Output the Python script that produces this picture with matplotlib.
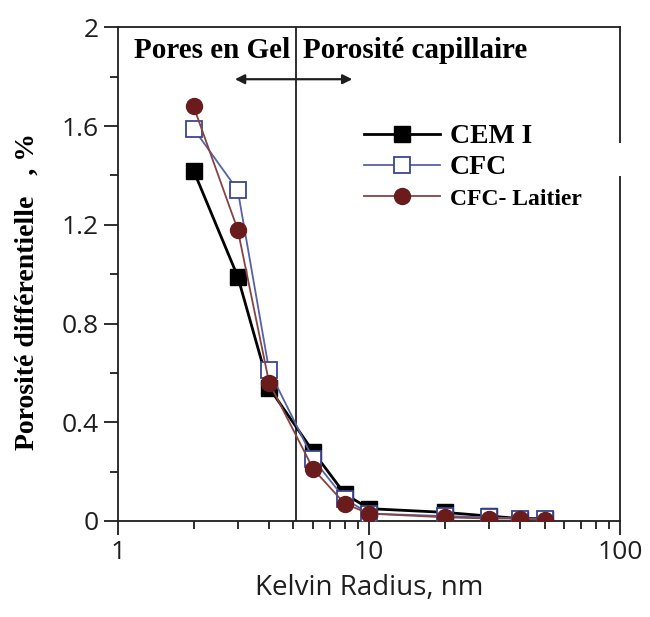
import matplotlib
matplotlib.use("Agg")
import matplotlib.pyplot as plt
from matplotlib.patches import Rectangle
from matplotlib.ticker import FixedLocator, NullFormatter

# Kelvin radius (nm) and differential porosity (%) for each binder
radius = [2, 3, 4, 6, 8, 10, 20, 30, 40, 50]
cem_i = [1.42, 0.99, 0.54, 0.28, 0.11, 0.05, 0.035, 0.02, 0.01, 0.01]
cfc = [1.59, 1.34, 0.61, 0.25, 0.09, 0.03, 0.02, 0.015, 0.01, 0.01]
cfc_laitier = [1.68, 1.18, 0.56, 0.21, 0.07, 0.03, 0.015, 0.01, 0.01, 0.005]

y_ticks = [0, 0.4, 0.8, 1.2, 1.6, 2]
y_tick_labels = ["0", "0.4", "0.8", "1.2", "1.6", "2"]
x_ticks = [1, 10, 100]
x_tick_labels = ["1", "10", "100"]
gel_limit = 5.1

serif = ["Liberation Serif", "DejaVu Serif"]
sans = ["Open Sans", "DejaVu Sans"]
ink = "#1e1e1e"

fig = plt.figure(figsize=(6.5, 6.17), dpi=100)
ax = fig.add_axes([0.1815, 0.1556, 0.7725, 0.800])

ax.plot(radius, cem_i, color="black", lw=2.0, marker="s", ms=11,
        mfc="black", mec="black", label="CEM I", zorder=3)
ax.plot(radius, cfc, color="#5662a8", lw=1.3, marker="s", ms=11,
        mfc="white", mec="#3a4590", mew=1.3, label="CFC", zorder=4)
ax.plot(radius, cfc_laitier, color="#854444", lw=1.3, marker="o", ms=11.5,
        mfc="#6a1c1c", mec="#6a1c1c", label="CFC- Laitier", zorder=5)

ax.set_xscale("log")
ax.set_xlim(1, 100)
ax.set_ylim(0, 2)

ax.xaxis.set_major_locator(FixedLocator(x_ticks))
ax.set_xticklabels(x_tick_labels, fontfamily=sans, fontsize=19, color=ink)
ax.xaxis.set_minor_locator(FixedLocator([2, 3, 4, 5, 6, 7, 8, 9,
                                         20, 30, 40, 50, 60, 70, 80, 90]))
ax.xaxis.set_minor_formatter(NullFormatter())
ax.yaxis.set_major_locator(FixedLocator(y_ticks))
ax.set_yticklabels(y_tick_labels, fontfamily=sans, fontsize=19, color=ink)
ax.yaxis.set_minor_locator(FixedLocator([0.2, 0.6, 1.0, 1.4, 1.8]))

ax.tick_params(which="major", direction="out", length=10, width=1.3, pad=4,
               color=ink)
ax.tick_params(which="minor", direction="out", length=6, width=1.3, color=ink)
for s in ax.spines.values():
    s.set_linewidth(1.3)
    s.set_color(ink)

ax.set_xlabel("Kelvin Radius, nm", fontfamily=sans, fontsize=20,
              color=ink, labelpad=6)
ax.set_ylabel("Porosité différentielle   , %", fontfamily=serif,
              fontweight="bold", fontsize=20)
ax.yaxis.set_label_coords(-0.155, 0.465)

# boundary between gel pores and capillary porosity
ax.axvline(gel_limit, color=ink, lw=1.3, zorder=2)
ax.annotate("", xy=(2.85, 1.79), xytext=(8.8, 1.79),
            arrowprops=dict(arrowstyle="<|-|>", color=ink, lw=1.6,
                            mutation_scale=14))
ax.text(4.85, 1.905, "Pores en Gel", ha="right", va="center",
        fontfamily=serif, fontweight="bold", fontsize=21)
ax.text(5.45, 1.905, "Porosité capillaire", ha="left", va="center",
        fontfamily=serif, fontweight="bold", fontsize=21)

leg = ax.legend(loc="upper left", bbox_to_anchor=(0.44, 0.855), frameon=False,
                handlelength=2.75, handletextpad=0.35, labelspacing=0.2,
                prop=dict(family=serif, weight="bold", size=20))
leg.get_texts()[2].set_fontsize(17)

# white backing of the key, breaking the right frame beside it
ax.add_patch(Rectangle((600 / 650, 1 - 176 / 617), 50 / 650, 33 / 617,
                       transform=fig.transFigure, facecolor="white",
                       edgecolor="none", clip_on=False, zorder=10))

fig.savefig("out.png", dpi=100)
